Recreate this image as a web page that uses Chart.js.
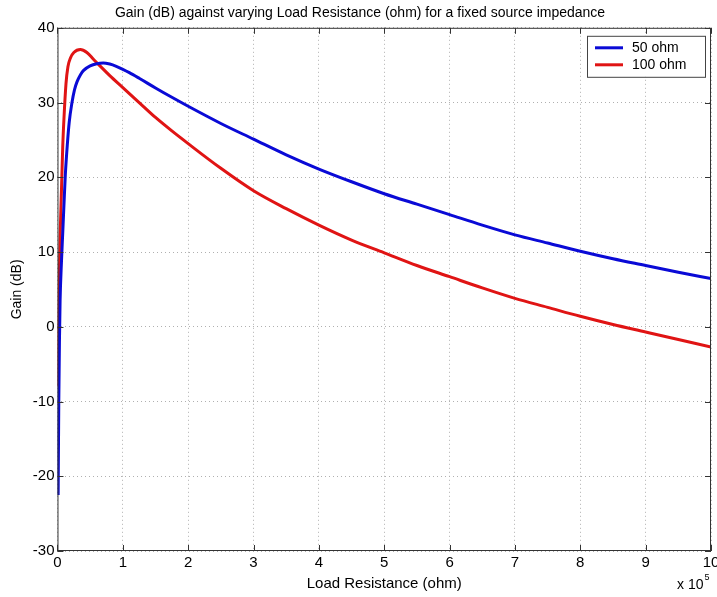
<!DOCTYPE html>
<html>
<head>
<meta charset="utf-8">
<script src="https://cdn.jsdelivr.net/npm/chart.js@4.4.1/dist/chart.umd.min.js"></script>
<style>
  html, body { margin: 0; padding: 0; background: #fff; }
  #wrap { width: 717px; height: 597px; }
</style>
</head>
<body>
<div id="wrap"><canvas id="gainChart" width="717" height="597"></canvas></div>
<script>
// load resistance in units of 1e5 ohm, gain in dB
var blueX = [0.01, 0.02, 0.03, 0.04, 0.06, 0.08, 0.1, 0.12, 0.15, 0.18, 0.22, 0.26, 0.3, 0.35, 0.4, 0.5, 0.6, 0.7, 0.8, 0.9, 1.0, 1.1, 1.25, 1.5, 1.75, 2.0, 2.5, 3, 3.5, 4, 4.5, 5, 5.5, 6, 6.5, 7, 7.5, 8, 8.5, 9, 9.5, 10];
var blueY = [-22.5, -10, -2, 3.5, 8.5, 12.5, 16.5, 20.3, 24.3, 27.4, 29.9, 31.7, 32.8, 33.7, 34.3, 34.9, 35.2, 35.3, 35.15, 34.85, 34.45, 34.0, 33.25, 31.95, 30.7, 29.5, 27.2, 25.1, 23.0, 21.1, 19.4, 17.8, 16.4, 15.0, 13.6, 12.3, 11.2, 10.1, 9.1, 8.2, 7.3, 6.45];
var redX = [0.01, 0.02, 0.03, 0.04, 0.05, 0.06, 0.07, 0.08, 0.1, 0.13, 0.16, 0.2, 0.25, 0.35, 0.45, 0.55, 0.65, 0.8, 1.0, 1.25, 1.5, 1.75, 2.0, 2.5, 3, 3.5, 4, 4.5, 5, 5.5, 6, 6.5, 7, 7.5, 8, 8.5, 9, 9.5, 10];
var redY = [-8, 2, 8, 12, 15, 18, 21, 24, 28, 32.5, 34.8, 36.0, 36.7, 37.1, 36.7, 35.8, 34.9, 33.6, 32.0, 30.0, 28.0, 26.2, 24.5, 21.2, 18.2, 15.8, 13.6, 11.6, 9.9, 8.2, 6.7, 5.2, 3.8, 2.6, 1.4, 0.3, -0.7, -1.7, -2.7];
var seriesNames = ["50 ohm", "100 ohm"];
var seriesColors = ["#0a0ad6", "#e01414"];

function toPoints(xs, ys) {
  return xs.map(function (x, i) { return { x: x, y: ys[i] }; });
}

var fontFam = "'Liberation Sans', Arial, sans-serif";

// box, inward ticks, legend and the exponent label, MATLAB style
var matlabFrame = {
  id: "matlabFrame",
  afterDraw: function (chart) {
    var ctx = chart.ctx;
    var a = chart.chartArea;
    var xs = chart.scales.x, ys = chart.scales.y;
    ctx.save();
    ctx.strokeStyle = "#333";
    ctx.lineWidth = 1;
    ctx.strokeRect(a.left + 0.5, a.top + 0.5, a.right - a.left - 1, a.bottom - a.top - 1);
    ctx.beginPath();
    xs.ticks.forEach(function (t) {
      var px = Math.round(xs.getPixelForValue(t.value)) + 0.5;
      ctx.moveTo(px, a.bottom); ctx.lineTo(px, a.bottom - 6);
      ctx.moveTo(px, a.top); ctx.lineTo(px, a.top + 6);
    });
    ys.ticks.forEach(function (t) {
      var py = Math.round(ys.getPixelForValue(t.value)) + 0.5;
      ctx.moveTo(a.left, py); ctx.lineTo(a.left + 6, py);
      ctx.moveTo(a.right, py); ctx.lineTo(a.right - 6, py);
    });
    ctx.stroke();

    // legend
    var lx = a.right - 124, ly = a.top + 8, lw = 118, lh = 41;
    ctx.fillStyle = "#fff";
    ctx.fillRect(lx, ly, lw, lh);
    ctx.strokeStyle = "#444";
    ctx.strokeRect(lx + 0.5, ly + 0.5, lw, lh);
    ctx.font = "14px " + fontFam;
    ctx.textBaseline = "middle";
    chart.data.datasets.forEach(function (ds, i) {
      var yy = ly + 12 + i * 17;
      ctx.strokeStyle = ds.borderColor;
      ctx.lineWidth = 3;
      ctx.beginPath();
      ctx.moveTo(lx + 8, yy); ctx.lineTo(lx + 36, yy);
      ctx.stroke();
      ctx.fillStyle = "#000";
      ctx.fillText(ds.label, lx + 45, yy);
    });

    // exponent
    ctx.fillStyle = "#000";
    ctx.font = "14px " + fontFam;
    ctx.textBaseline = "alphabetic";
    var ex = a.right - 34;
    ctx.fillText("x 10", ex, 589);
    var w = ctx.measureText("x 10").width;
    ctx.font = "9px " + fontFam;
    ctx.fillText("5", ex + w + 1, 580);
    ctx.restore();
  }
};

var ctx = document.getElementById("gainChart").getContext("2d");
var gainChart = new Chart(ctx, {
  type: "line",
  data: {
    datasets: [
      {
        label: seriesNames[0],
        data: toPoints(blueX, blueY),
        borderColor: seriesColors[0],
        borderWidth: 3,
        pointRadius: 0,
        cubicInterpolationMode: "monotone",
        fill: false
      },
      {
        label: seriesNames[1],
        data: toPoints(redX, redY),
        borderColor: seriesColors[1],
        borderWidth: 3,
        pointRadius: 0,
        cubicInterpolationMode: "monotone",
        fill: false
      }
    ]
  },
  options: {
    responsive: false,
    animation: false,
    layout: { padding: { left: 9, right: 6, top: 0, bottom: 4 } },
    plugins: {
      legend: { display: false },
      tooltip: { enabled: false },
      title: {
        display: true,
        text: "Gain (dB) against varying Load Resistance (ohm) for a fixed source impedance",
        color: "#000",
        font: { family: fontFam, size: 14, weight: "normal" },
        padding: { top: 5, bottom: 6 }
      }
    },
    scales: {
      x: {
        type: "linear",
        min: 0,
        max: 10,
        afterFit: function (scale) { scale.paddingRight = 0; },
        ticks: {
          stepSize: 1,
          color: "#000",
          font: { family: fontFam, size: 15 },
          padding: 3
        },
        grid: {
          color: "#b0b0b0",
          drawTicks: false
        },
        border: { display: false, dash: [1, 3] },
        title: {
          display: true,
          text: "Load Resistance (ohm)",
          color: "#000",
          font: { family: fontFam, size: 15 },
          padding: { top: 0, bottom: 0 }
        }
      },
      y: {
        min: -30,
        max: 40,
        ticks: {
          stepSize: 10,
          color: "#000",
          font: { family: fontFam, size: 15 },
          padding: 3
        },
        grid: {
          color: "#b0b0b0",
          drawTicks: false
        },
        border: { display: false, dash: [1, 3] },
        title: {
          display: true,
          text: "Gain (dB)",
          color: "#000",
          font: { family: fontFam, size: 14 },
          padding: { top: 0, bottom: 4 }
        }
      }
    }
  },
  plugins: [matlabFrame]
});
</script>
</body>
</html>
